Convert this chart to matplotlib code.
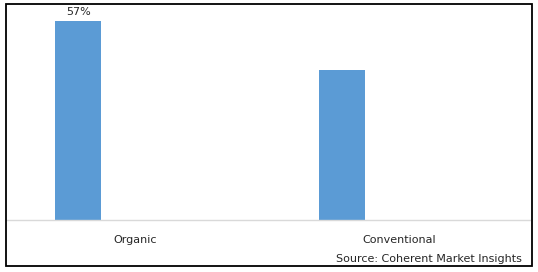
import matplotlib
matplotlib.use("Agg")
import matplotlib.pyplot as plt
from matplotlib.patches import Rectangle

# data
categories = ["Organic", "Conventional"]
shares = [57, 43]
shown_labels = ["57%", None]

W, H = 538, 272
fig = plt.figure(figsize=(W / 100, H / 100), dpi=100)

# outer frame around the whole chart
fig.patches.append(Rectangle((5.5 / W, 6.5 / H), 526 / W, 262 / H, transform=fig.transFigure,
                             fill=False, edgecolor="black", linewidth=1.3))

ax = fig.add_axes([6 / W, (H - 220) / H, 524 / W, 217 / H])
x = list(range(len(categories)))
bars = ax.bar(x, shares, width=0.174, color="#5B9BD5")

ax.set_xlim(-0.273, 1.712)
ax.set_ylim(0, 62.2)

for sp in ["top", "left", "right"]:
    ax.spines[sp].set_visible(False)
ax.spines["bottom"].set_color("#d9d9d9")
ax.spines["bottom"].set_linewidth(1)
ax.set_yticks([])
# category labels sit a bit to the right of the bars in the original
ax.set_xticks([i + 0.217 for i in x])
ax.set_xticklabels(categories, fontsize=8, color="#262626")
ax.tick_params(axis="x", length=0, pad=11)

for b, lab in zip(bars, shown_labels):
    if lab:
        ax.text(b.get_x() + b.get_width() / 2, b.get_height() + 1.2, lab,
                ha="center", va="bottom", fontsize=8, color="#262626")

fig.text(522 / W, (H - 259) / H, "Source: Coherent Market Insights",
         ha="right", va="center", fontsize=8, color="#262626")

fig.savefig("out.png", dpi=100)
